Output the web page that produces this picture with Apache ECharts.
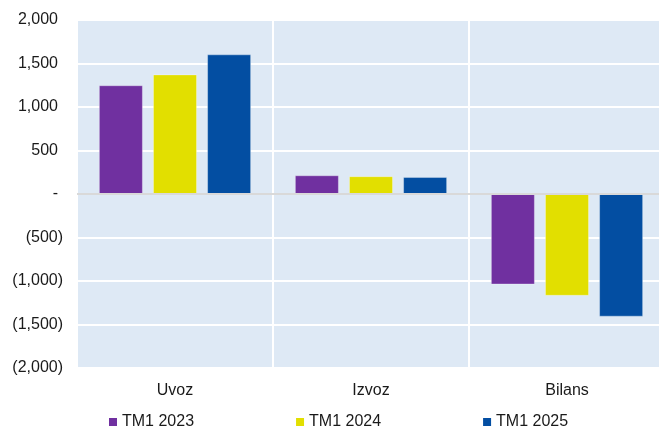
<!DOCTYPE html>
<html>
<head>
<meta charset="utf-8">
<script src="https://cdn.jsdelivr.net/npm/echarts@6/dist/echarts.min.js"></script>
<style>html,body{margin:0;padding:0;background:#fff;overflow:hidden;width:659px;height:430px}#c{width:670px;height:430px}</style>
</head>
<body>
<div id="c"></div>
<script>
var categories = ['Uvoz', 'Izvoz', 'Bilans'];
var seriesNames = ['TM1 2023', 'TM1 2024', 'TM1 2025'];
var tm2023 = [1250, 215, -1040];
var tm2024 = [1375, 205, -1170];
var tm2025 = [1605, 195, -1410];
var colors = ['#7030A0', '#E2DF00', '#034EA2'];

function fmt(v) {
  if (v === 0) return '{p|-}';
  var s = Math.abs(v).toString().replace(/\B(?=(\d{3})+(?!\d))/g, ',');
  return v < 0 ? '{n|(' + s + ')}' : '{p|' + s + '}';
}

var font = '"Liberation Sans", Arial, sans-serif';
var chart = echarts.init(document.getElementById('c'));
var data = [tm2023, tm2024, tm2025];
var series = data.map(function (d, i) {
  var s = {
    name: seriesNames[i],
    type: 'bar',
    data: d,
    barWidth: 44,
    barGap: '23%',
    itemStyle: { color: colors[i], borderColor: 'rgba(255,255,255,0.3)', borderWidth: 1 }
  };
  if (i === 0) {
    s.markLine = {
      silent: true,
      symbol: 'none',
      label: { show: false },
      lineStyle: { color: '#D9D9D9', width: 2, type: 'solid' },
      data: [{ yAxis: 0 }]
    };
  }
  return s;
});

chart.setOption({
  animation: false,
  textStyle: { fontFamily: font },
  grid: {
    left: 77, right: 5, top: 20, height: 348,
    show: true, backgroundColor: '#DEE9F5', borderWidth: 0
  },
  legend: {
    data: seriesNames,
    left: 104,
    top: 409,
    itemWidth: 8,
    itemHeight: 8,
    itemGap: 102,
    icon: 'rect',
    itemStyle: { borderWidth: 0 },
    textStyle: { fontSize: 16, color: '#1a1a1a', fontFamily: font }
  },
  xAxis: {
    type: 'category',
    data: categories,
    axisLine: { show: false },
    axisTick: { show: false },
    axisLabel: { fontSize: 16, color: '#1a1a1a', margin: 15, fontFamily: font },
    splitLine: { show: true, lineStyle: { color: '#ffffff', width: 2 } }
  },
  yAxis: {
    type: 'value',
    min: -2000,
    max: 2000,
    interval: 500,
    axisLine: { show: false },
    axisTick: { show: false },
    axisLabel: {
      margin: 14,
      formatter: fmt,
      rich: {
        p: { fontSize: 16, color: '#1a1a1a', fontFamily: font, padding: [0, 5, 0, 0] },
        n: { fontSize: 16, color: '#1a1a1a', fontFamily: font }
      }
    },
    splitLine: { show: true, lineStyle: { color: '#ffffff', width: 2 } }
  },
  series: series
});
</script>
</body>
</html>
